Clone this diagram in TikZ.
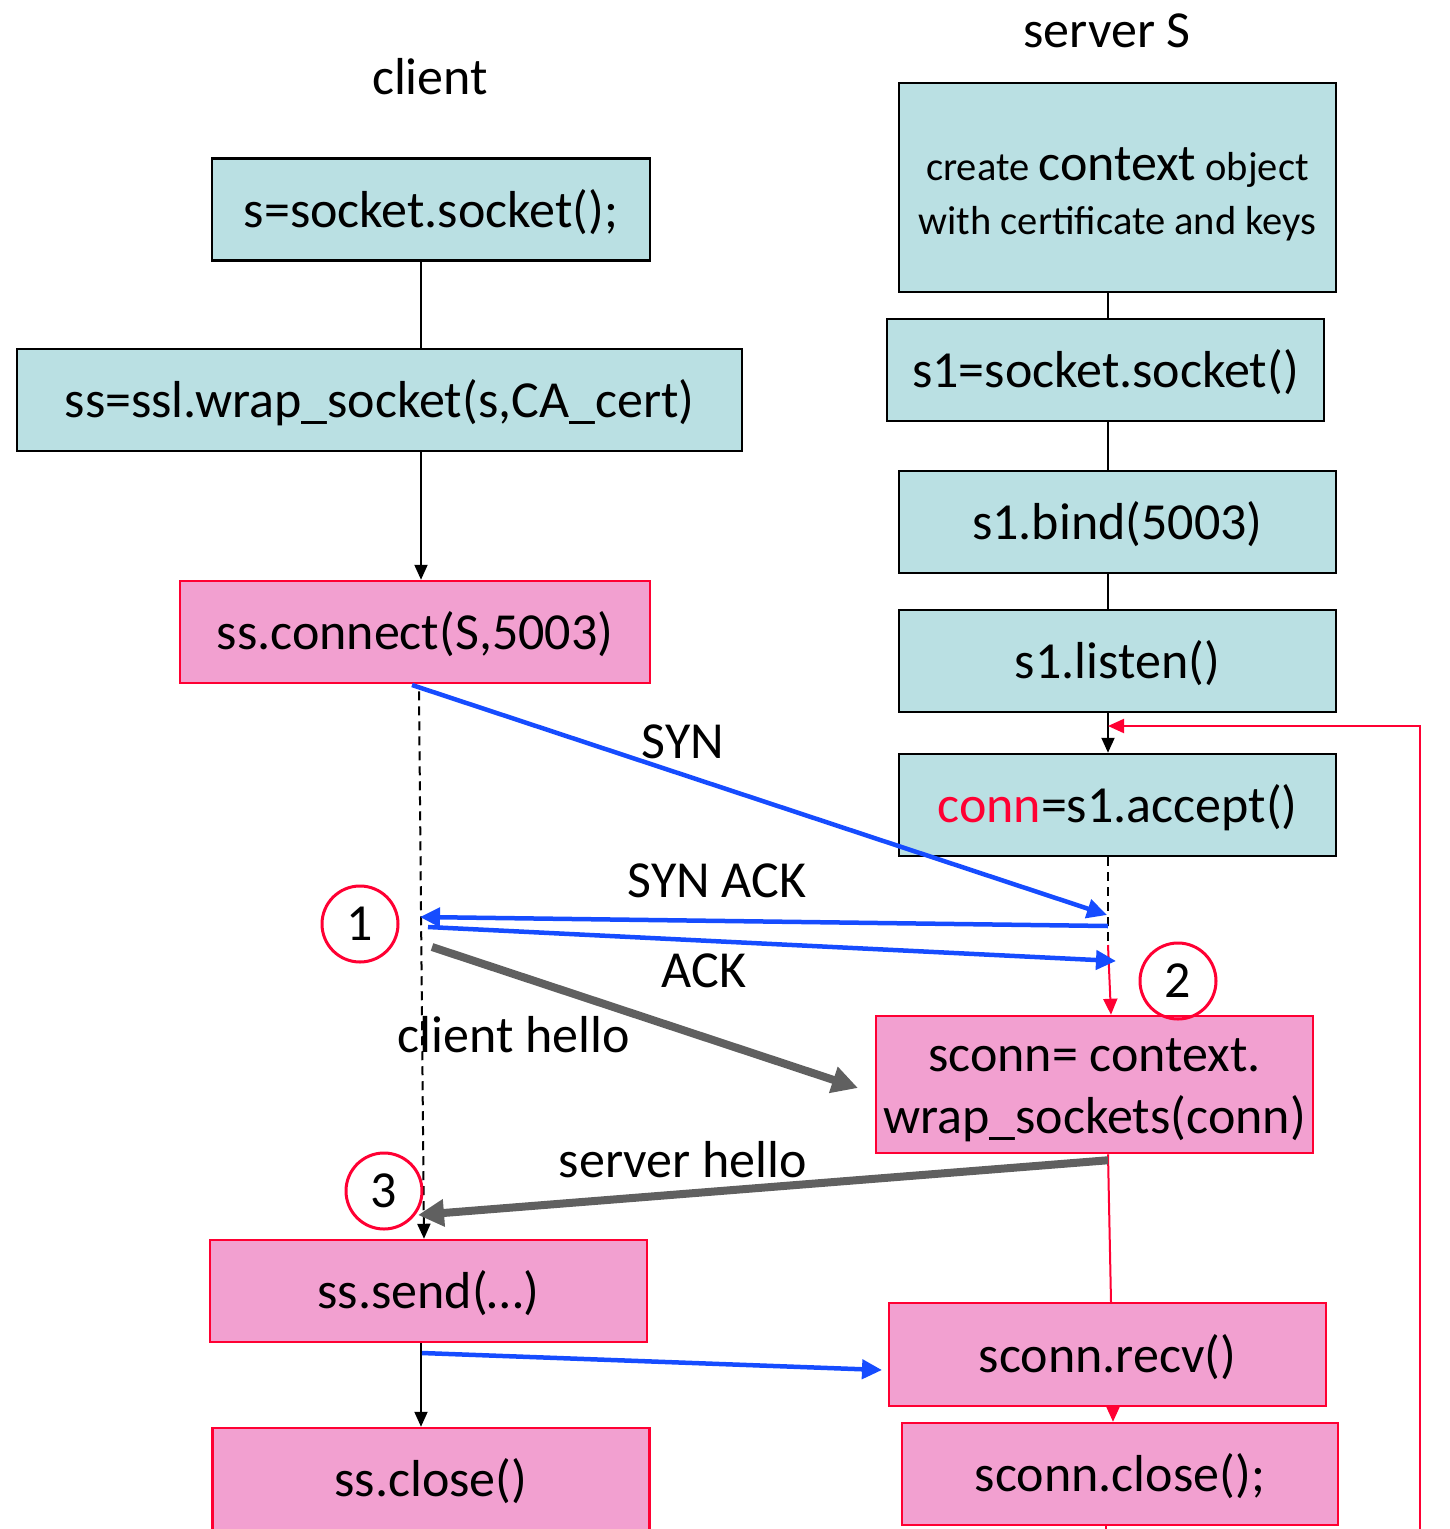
\documentclass[tikz,border=0pt]{standalone}
\usepackage{fontspec}
\setmainfont{Carlito}
\usetikzlibrary{arrows.meta,positioning}
\definecolor{boxcyan}{RGB}{186,224,227}
\definecolor{boxpink}{RGB}{242,160,208}
\definecolor{linered}{RGB}{255,0,51}
\definecolor{msgblue}{RGB}{22,76,255}
\definecolor{msggray}{RGB}{96,96,96}
\newcommand{\boxfont}{\fontsize{52}{62}\selectfont}
\tikzset{
  setupbox/.style={draw=black, line width=2.5pt, fill=boxcyan, inner sep=0pt,
    minimum width=437pt, minimum height=102pt, font=\boxfont},
  sslbox/.style={draw=linered, line width=2.5pt, fill=boxpink, inner sep=0pt,
    minimum width=437pt, minimum height=102pt, font=\boxfont},
  oneline/.style={text height=40pt, text depth=5pt},
  lbl/.style={font=\boxfont, anchor=base, inner sep=0pt},
  numcircle/.style={circle, draw=linered, line width=3pt, minimum size=76pt,
    inner sep=0pt, font=\boxfont},
  flow/.style={line width=2pt, -{Triangle[length=15pt,width=13pt]}},
  redflow/.style={draw=linered, line width=2pt, -{Triangle[length=16pt,width=14pt]}},
  bluemsg/.style={draw=msgblue, line width=4.5pt, -{Triangle[length=20pt,width=19pt]}},
  graymsg/.style={draw=msggray, line width=8pt, -{Triangle[length=26pt,width=26pt]}},
}
\begin{document}
\begin{tikzpicture}[x=1pt,y=-1pt]
\useasboundingbox (0,0) rectangle (1449,1529);

% lifelines
\coordinate (cli) at (421,0);
\coordinate (srv) at (1108,0);

% titles
\node[lbl] (client) at (430,94) {client};
\node[lbl] (server) at (1107,47) {server S};

% client side
\node[setupbox, oneline, minimum width=438pt] (sock) at (431,209.5) {s=socket.socket();};
\node[setupbox, oneline, minimum width=725pt] (wrap) at (379.5,400) {ss=ssl.wrap\_socket(s,CA\_cert)};
\node[sslbox, oneline, minimum width=470pt] (connect) at (415,632) {ss.connect(S,5003)};
\node[sslbox, oneline] (send) at (428.5,1291) {ss.send(…)};
\node[sslbox, oneline] (close) at (431,1479) {ss.close()};

% server side
\node[setupbox, minimum height=209pt] (ctx) at (1117.5,187.5) {};
\node[align=center, inner sep=0pt, font=\fontsize{40.5}{54}\selectfont]
  (ctxtext) at ([yshift=-7pt]ctx.center) {create {\fontsize{52}{54}\selectfont context} object\\with certificate and keys};
\node[setupbox, oneline] (s1sock) at (1105.5,370) {s1=socket.socket()};
\node[setupbox, oneline] (bind) at (1117.5,522) {s1.bind(5003)};
\node[setupbox, oneline] (listen) at (1117.5,661) {s1.listen()};
\node[setupbox, oneline] (accept) at (1117.5,805) {\textcolor{linered}{conn}=s1.accept()};
\node[sslbox, minimum height=137pt] (sconn) at (1094.5,1084.5) {};
\node[align=center, inner sep=0pt, font=\boxfont]
  (sconntext) at ([yshift=-6pt]sconn.center) {sconn= context.\\wrap\_sockets(conn)};
\node[sslbox, oneline, minimum height=103pt] (recv) at (1107.5,1354.5) {sconn.recv()};
\node[sslbox, oneline, minimum width=436pt] (sclose) at (1120,1474) {sconn.close();};

% client flow
\draw[line width=2pt] (sock.south -| cli) -- (wrap.north -| cli);
\draw[flow] (wrap.south -| cli) -- (connect.north -| cli);
\draw[line width=2pt, dash pattern=on 9pt off 6pt, -{Triangle[length=15pt,width=13pt]}]
  (connect.south -| cli) ++(-2,7) -- ([xshift=3pt]send.north -| cli);
\draw[flow] (send.south -| cli) -- (close.north -| cli);

% server flow
\draw[line width=2pt] (ctx.south -| srv) -- (s1sock.north -| srv);
\draw[line width=2pt] (s1sock.south -| srv) -- (bind.north -| srv);
\draw[line width=2pt] (bind.south -| srv) -- (listen.north -| srv);
\draw[flow] (listen.south -| srv) -- (accept.north -| srv);
\coordinate (waitend) at (1108,950);
\draw[line width=2pt, dash pattern=on 9pt off 6pt] (accept.south -| srv) -- (waitend);
\draw[redflow] (1108,945) -- ([xshift=3pt]sconn.north -| srv);
\draw[draw=linered, line width=2pt] (sconn.south -| srv) -- ([xshift=3pt]recv.north -| srv);
\draw[redflow] ([xshift=5pt]recv.south -| srv) -- ([xshift=5pt]sclose.north -| srv);
\draw[draw=linered, line width=2pt] ([xshift=-2pt]sclose.south -| srv) -- ++(0,12);

% loop back to accept
\coordinate (loopbot) at (1420,1540);
\coordinate (loopin) at (1108,726);
\draw[redflow] (loopbot) |- (loopin);

% handshake messages
\coordinate (synA) at (412,685);
\coordinate (synB) at (1107,915);
\coordinate (sackA) at (420,917);
\coordinate (sackB) at (1108,926);
\coordinate (ackA) at (428,927);
\coordinate (ackB) at (1116,961);
\draw[bluemsg] (synA) -- (synB);
\draw[bluemsg] (sackB) -- (sackA);
\draw[bluemsg] (ackA) -- (ackB);
\node[lbl] (syn) at (683,758) {SYN};
\node[lbl] (synack) at (717,897) {SYN ACK};
\node[lbl] (ack) at (704,987) {ACK};

% TLS hello
\coordinate (chA) at (432,947);
\coordinate (chB) at (858,1088);
\coordinate (shA) at (418,1215);
\draw[graymsg] (chA) -- (chB);
\draw[graymsg] (sconn.south -| srv) ++(0,6) -- (shA);
\node[lbl] (chello) at (514,1052) {client hello};
\node[lbl] (shello) at (683,1177) {server hello};

% data
\coordinate (dataA) at (422,1353);
\coordinate (dataB) at (882,1370);
\draw[bluemsg] (dataA) -- (dataB);

% step numbers
\node[numcircle] (n1) at (360,924) {1};
\node[numcircle] (n2) at (1178,981) {2};
\node[numcircle] (n3) at (384,1191) {3};
\end{tikzpicture}
\end{document}
